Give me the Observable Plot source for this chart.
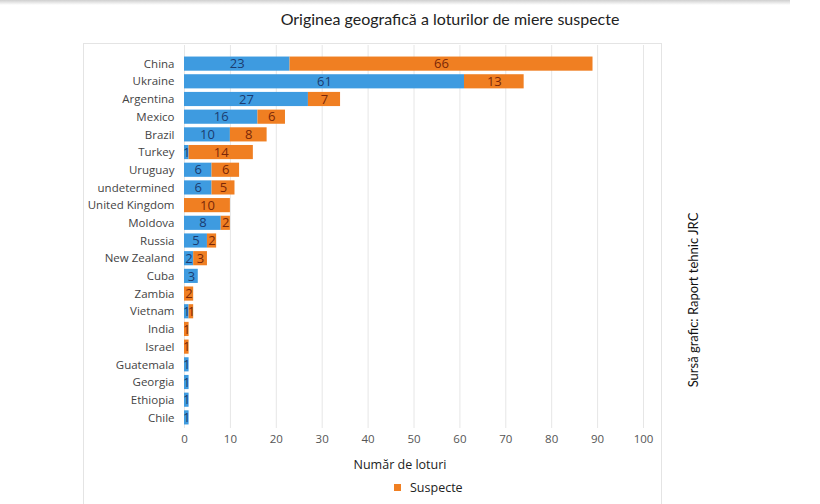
<!DOCTYPE html>
<html>
<head>
<meta charset="utf-8">
<script src="https://cdn.jsdelivr.net/npm/d3@7"></script>
<script src="https://cdn.jsdelivr.net/npm/@observablehq/plot@0.6"></script>
<style>
  html, body { margin: 0; padding: 0; background: #fff; }
  #wrap { position: relative; width: 820px; height: 504px; overflow: hidden; font-family: "Open Sans", sans-serif; }
  #topshade { position: absolute; left: 0; top: 0; width: 790px; height: 5px; background: linear-gradient(#cfcfcf, rgba(255,255,255,0)); }
  #panel { position: absolute; left: 83px; top: 43px; width: 579px; height: 470px; border: 1px solid #e4e4e4; box-sizing: border-box; }
  #title { position: absolute; left: 0; width: 900px; top: 9px; text-align: center; font-family: Lato, sans-serif; font-size: 16px; color: #222; }
  #source { position: absolute; left: 693px; top: 300px; transform: translate(-50%, -50%) rotate(-90deg); white-space: nowrap; font-family: Lato, sans-serif; font-size: 13px; color: #111; }
  #xtitle { position: absolute; left: 300px; width: 200px; top: 456px; text-align: center; font-size: 12.5px; color: #222; }
  #legend { position: absolute; left: 394px; top: 479px; font-size: 12.5px; color: #222; display: flex; align-items: center; }
  #legend span.sw { display: inline-block; width: 7px; height: 7px; background: #f07f22; margin-right: 9px; }
  #chart { position: absolute; left: 0; top: 0; }
</style>
</head>
<body>
<div id="wrap">
  <div id="topshade"></div>
  <div id="panel"></div>
  <div id="chart"></div>
  <div id="title">Originea geografică a loturilor de miere suspecte</div>
  <div id="source">Sursă grafic: Raport tehnic JRC</div>
  <div id="xtitle">Număr de loturi</div>
  <div id="legend"><span class="sw"></span>Suspecte</div>
</div>
<script>
const countries = ["China","Ukraine","Argentina","Mexico","Brazil","Turkey","Uruguay","undetermined","United Kingdom","Moldova","Russia","New Zealand","Cuba","Zambia","Vietnam","India","Israel","Guatemala","Georgia","Ethiopia","Chile"];
const blueValues   = [23, 61, 27, 16, 10, 1, 6, 6, 0, 8, 5, 2, 3, 0, 1, 0, 0, 1, 1, 1, 1];
const suspectValues = [66, 13, 7, 6, 8, 14, 6, 5, 10, 2, 2, 3, 0, 2, 1, 1, 1, 0, 0, 0, 0];
const seriesNames = ["Nesuspecte", "Suspecte"];
const xTicks = [0,10,20,30,40,50,60,70,80,90,100];

const colors = {"Nesuspecte": "#3e9be0", "Suspecte": "#f07f22"};
const textColors = {"Nesuspecte": "#1b3c70", "Suspecte": "#7a2708"};

const rows = [];
countries.forEach((c, i) => {
  rows.push({country: c, series: seriesNames[0], value: blueValues[i]});
  rows.push({country: c, series: seriesNames[1], value: suspectValues[i]});
});
const data = rows.filter(d => d.value > 0);

const chart = Plot.plot({
  width: 820,
  height: 504,
  marginLeft: 184,
  marginRight: 177,
  marginTop: 53,
  marginBottom: 76,
  style: {fontFamily: "'Open Sans', sans-serif", background: "transparent"},
  x: {domain: [0, 100], ticks: xTicks, label: null, grid: false},
  y: {domain: countries, padding: 0.2, round: false, label: null},
  color: {domain: seriesNames, range: seriesNames.map(s => colors[s])},
  marks: [
    Plot.gridX(xTicks, {stroke: "#e6e6e6", strokeOpacity: 1, insetTop: -8}),
    Plot.barX(data, Plot.stackX({x: "value", y: "country", fill: "series", order: seriesNames})),
    Plot.textX(data, Plot.stackX({x: "value", y: "country", z: "series", order: seriesNames, text: d => String(d.value), fill: d => textColors[d.series], fontSize: 13})),
    Plot.axisX({ticks: xTicks, tickSize: 0, tickPadding: 6, fontSize: 11.5, color: "#555", label: null}),
    Plot.axisY({tickSize: 0, tickPadding: 10, fontSize: 11.5, color: "#444", label: null})
  ]
});
document.getElementById("chart").appendChild(chart);
</script>
</body>
</html>
